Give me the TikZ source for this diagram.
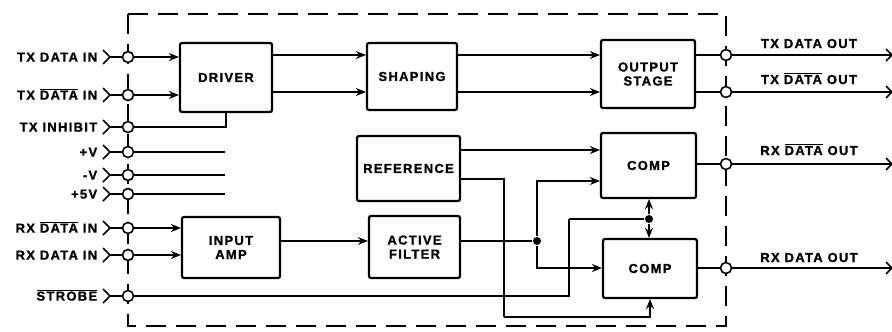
\documentclass[tikz,border=0pt]{standalone}
\usepackage{fontspec}
\setmainfont{Liberation Sans}[LetterSpace=10, BoldFeatures={FakeBold=1.2}]
\usetikzlibrary{arrows.meta}
\newcommand\ovl[1]{$\overline{\mbox{#1}}$}
\newcommand\inpin[3]{%
  \coordinate (#1v) at (110,#2);
  \node[pin] (#1) at (128,#2) {};
  \node[lbl] (#1l) at (98,#2+4.6) {#3};
  \draw (#1v) -- (#1);
  \draw ([xshift=-7pt,yshift=7pt]#1v) -- (#1v) -- ([xshift=-7pt,yshift=-7pt]#1v);
}
\newcommand\outpin[2]{%
  \node[pin] (#1) at (726,#2) {};
  \coordinate (#1v) at (892,#2);
  \draw (#1) -- (#1v);
  \draw ([xshift=-6pt,yshift=6pt]#1v) -- (#1v) -- ([xshift=-6pt,yshift=-6pt]#1v);
}
\begin{document}
\begin{tikzpicture}[x=1pt,y=-1pt,
  font=\fontsize{13}{14}\selectfont\bfseries,
  line width=1.6pt,
  blk/.style={draw, line width=2.2pt, rounded corners=2pt, align=center, inner sep=0pt},
  pin/.style={circle, draw, fill=white, minimum size=11pt, inner sep=0pt, line width=1.6pt},
  lbl/.style={anchor=base east, inner sep=0pt},
  olbl/.style={anchor=base, inner sep=0pt},
  arr/.style={-{Stealth[length=10pt,width=8pt]}},
  jdot/.style={circle, fill, minimum size=8pt, inner sep=0pt},
  frame/.style={dash pattern=on 20pt off 10pt, line width=1.6pt}]
\useasboundingbox (0,0) rectangle (892,332);

% dashed enclosure
\draw[frame] (128,14) -- (726,14) -- (726,326) -- (128,326) -- cycle;

% blocks
\node[blk, minimum width=92pt, minimum height=69pt] (drv) at (226,77.5) {DRIVER};
\node[blk, minimum width=90pt, minimum height=67pt] (shp) at (412,76.5) {SHAPING};
\node[blk, minimum width=94pt, minimum height=68pt] (out) at (648,74) {OUTPUT\\STAGE};
\node[blk, minimum width=103pt, minimum height=65pt] (ref) at (408.5,168.5) {REFERENCE};
\node[blk, minimum width=95pt, minimum height=65pt] (cmp1) at (648.5,165.5) {COMP};
\node[blk, minimum width=98pt, minimum height=61pt] (amp) at (231,247.5) {INPUT\\AMP};
\node[blk, minimum width=91pt, minimum height=62pt] (flt) at (414.5,247) {ACTIVE\\FILTER};
\node[blk, minimum width=94pt, minimum height=59pt] (cmp2) at (650,268.5) {COMP};

% row coordinates
\coordinate (ra) at (0,55);
\coordinate (rb) at (0,92);
\coordinate (rc) at (0,150);
\coordinate (rd) at (0,179);
\coordinate (rf) at (0,181);
\coordinate (re) at (0,241);
\coordinate (rg) at (0,268);

% input pins
\inpin{p1}{57}{TX DATA IN}
\inpin{p2}{95}{TX \ovl{DATA} IN}
\inpin{p3}{127}{TX INHIBIT}
\inpin{p4}{152}{+V}
\inpin{p5}{175}{-V}
\inpin{p6}{194}{+5V}
\inpin{p7}{228}{RX \ovl{DATA} IN}
\inpin{p8}{255}{RX DATA IN}
\inpin{p9}{296}{\ovl{STROBE}}

% output pins
\outpin{q1}{55}
\outpin{q2}{92}
\outpin{q3}{164}
\outpin{q4}{268}
\node[olbl] (q1l) at (809,48) {TX DATA OUT};
\node[olbl] (q2l) at (809,84) {TX \ovl{DATA} OUT};
\node[olbl] (q3l) at (809,155) {RX \ovl{DATA} OUT};
\node[olbl] (q4l) at (809,262) {RX DATA OUT};

% junction points
\node[jdot] (dA) at (537,241) {};
\node[jdot] (dB) at (649,219) {};
\coordinate (s1) at (569,219);
\coordinate (t1) at (504,317);
\coordinate (v4) at (225,152);
\coordinate (v5) at (225,175);
\coordinate (v6) at (225,194);

% TX path
\draw[arr] (p1) -- (drv.west |- p1);
\draw[arr] (p2) -- (drv.west |- p2);
\draw (p3) -| (drv.south);
\draw (p4) -- (v4);
\draw (p5) -- (v5);
\draw (p6) -- (v6);
\draw[arr] (drv.east |- ra) -- (shp.west |- ra);
\draw[arr] (drv.east |- rb) -- (shp.west |- rb);
\draw[arr] (shp.east |- ra) -- (out.west |- ra);
\draw[arr] (shp.east |- rb) -- (out.west |- rb);
\draw (out.east |- ra) -- (q1);
\draw (out.east |- rb) -- (q2);

% RX path
\draw[arr] (p7) -- (amp.west |- p7);
\draw[arr] (p8) -- (amp.west |- p8);
\draw[arr] (amp.east |- re) -- (flt.west |- re);
\draw (flt.east |- re) -- (dA);
\draw[arr] (dA) |- (cmp1.west |- rf);
\draw[arr] (dA) |- (cmp2.west |- rg);
\draw[arr] (ref.east |- rc) -- (cmp1.west |- rc);
\draw (ref.east |- rd) -| (t1);
\draw[arr] (t1) -| (cmp2.south);
\draw (p9) -| (s1);
\draw (s1) -- (dB);
\draw[arr] (dB) -- (dB |- cmp1.south);
\draw[arr] (dB) -- (dB |- cmp2.north);
\draw (cmp1.east |- q3) -- (q3);
\draw (cmp2.east |- q4) -- (q4);
\end{tikzpicture}
\end{document}
